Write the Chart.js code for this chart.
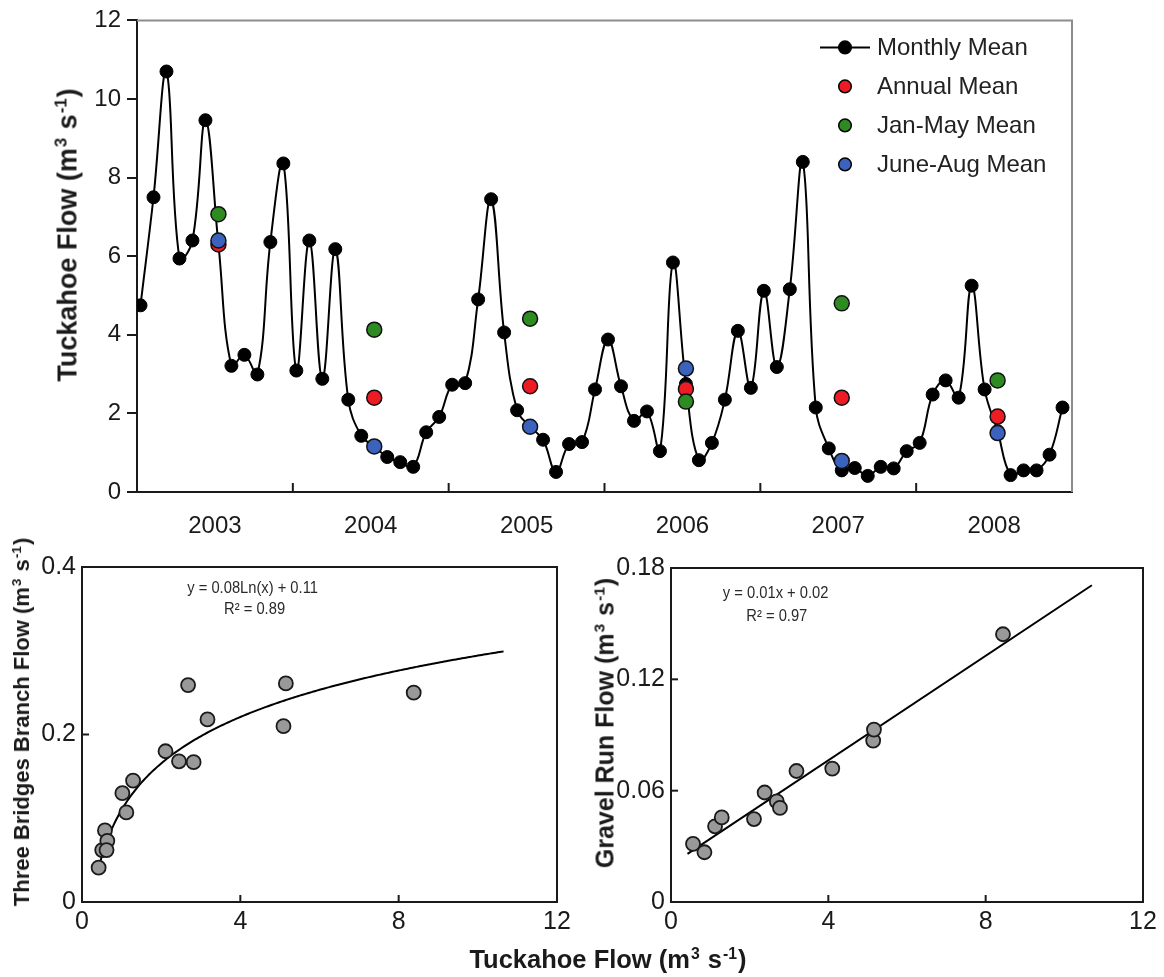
<!DOCTYPE html>
<html>
<head>
<meta charset="utf-8">
<script src="https://cdn.jsdelivr.net/npm/chart.js@4.4.1/dist/chart.umd.min.js"></script>
<style>
  body { margin: 0; background: #fff; }
  #wrap { position: relative; width: 1164px; height: 977px; overflow: hidden;
          font-family: "Liberation Sans", Arial, sans-serif; color: #1a1a1a; }
  canvas { position: absolute; }
  .title { position: absolute; font-weight: bold; font-size: 24px; white-space: nowrap; line-height: 1; }
  .title sup { font-size: 0.62em; position: relative; top: -0.6em; vertical-align: baseline; margin: 0 1px; }
  .rot { transform: translate(-50%, -50%) rotate(-90deg); }
  .hor { transform: translate(-50%, -50%); }
</style>
</head>
<body>
<div id="wrap">
  <canvas id="flowTop" width="1164" height="560" style="left:0;top:0"></canvas>
  <canvas id="flowThree" width="580" height="437" style="left:0;top:540px"></canvas>
  <canvas id="flowGravel" width="584" height="437" style="left:580px;top:540px"></canvas>
  <div class="title rot" style="left:68px;top:235px;font-size:27px">Tuckahoe Flow (m<sup>3</sup> s<sup>-1</sup>)</div>
  <div class="title rot" style="left:22px;top:722px;font-size:22px">Three Bridges Branch Flow (m<sup>3</sup> s<sup>-1</sup>)</div>
  <div class="title rot" style="left:605px;top:723px;font-size:25px">Gravel Run Flow (m<sup>3</sup> s<sup>-1</sup>)</div>
  <div class="title hor" style="left:608px;top:960px;font-size:25.5px">Tuckahoe Flow (m<sup>3</sup> s<sup>-1</sup>)</div>
</div>
<script>
// ---- data ----
const years = ['2003', '2004', '2005', '2006', '2007', '2008'];

// monthly mean Tuckahoe flow, Jan 2003 .. Dec 2008
const monthlyMean = [
  4.75, 7.5, 10.7, 5.94, 6.4, 9.46, 6.3, 3.21, 3.49, 2.99, 6.36, 8.36,
  3.09, 6.4, 2.88, 6.18, 2.35, 1.43, 1.16, 0.89, 0.76, 0.64, 1.52, 1.91,
  2.73, 2.77, 4.9, 7.45, 4.06, 2.08, 1.66, 1.33, 0.51, 1.22, 1.27, 2.61,
  3.88, 2.69, 1.81, 2.05, 1.04, 5.84, 2.75, 0.81, 1.25, 2.35, 4.1, 2.65,
  5.12, 3.18, 5.16, 8.4, 2.15, 1.11, 0.55, 0.61, 0.41, 0.64, 0.6, 1.04,
  1.25, 2.48, 2.84, 2.4, 5.25, 2.61, 1.55, 0.43, 0.55, 0.55, 0.95, 2.15
];
const annualMean  = [6.3, 2.4, 2.69, 2.62, 2.4, 1.92];
const janMayMean  = [7.07, 4.13, 4.41, 2.3, 4.8, 2.84];
const juneAugMean = [6.4, 1.16, 1.66, 3.14, 0.79, 1.5];

// Three Bridges Branch vs Tuckahoe
const threeX = [0.42, 0.51, 0.58, 0.64, 0.62, 1.02, 1.12, 1.29, 2.11, 2.45, 2.68, 2.82, 3.17, 5.09, 5.15, 8.38];
const threeY = [0.041, 0.062, 0.0855, 0.073, 0.062, 0.130, 0.107, 0.145, 0.180, 0.168, 0.259, 0.167, 0.218, 0.210, 0.261, 0.250];
const threeFit = { a: 0.08, b: 0.11, from: 0.45, to: 10.65 };   // y = a ln(x) + b

// Gravel Run vs Tuckahoe
const gravelX = [0.56, 0.85, 1.12, 1.29, 2.11, 2.38, 2.69, 2.77, 3.19, 4.10, 5.14, 5.16, 8.44];
const gravelY = [0.0313, 0.0268, 0.0408, 0.0456, 0.0447, 0.059, 0.0542, 0.0507, 0.0706, 0.0719, 0.087, 0.0929, 0.1443];
const gravelFitX = [0.42, 10.7];
const gravelFitY = [0.0259, 0.1707];

// tick labels
const topYTicks = [0, 2, 4, 6, 8, 10, 12];
const flowXTicks = [0, 4, 8, 12];
const threeYTicks = [0, 0.2, 0.4];
const gravelYTicks = [0, 0.06, 0.12, 0.18];

// ---- helpers ----
const FONT = '"Liberation Sans", Arial, sans-serif';
const INK = '#1a1a1a';
const MONTH_SHIFT = 0.27;   // points sit just after each month start

const monthPts = monthlyMean.map((v, i) => ({ x: i + MONTH_SHIFT, y: v }));
const meanPts = arr => arr.map((v, i) => ({ x: i * 12 + 6 + MONTH_SHIFT, y: v }));

// box outline + inward tick marks
const frame = {
  id: 'frame',
  afterDraw(chart, args, o) {
    const { ctx, chartArea: a, scales } = chart;
    ctx.save();
    ctx.lineWidth = 2;
    ctx.strokeStyle = o.color;
    ctx.beginPath();
    ctx.moveTo(a.left, a.top);
    ctx.lineTo(a.right, a.top);
    ctx.lineTo(a.right, a.bottom);
    ctx.stroke();
    ctx.strokeStyle = INK;
    (o.xTicks || []).forEach(v => {
      const x = scales.x.getPixelForValue(v);
      ctx.beginPath(); ctx.moveTo(x, a.bottom); ctx.lineTo(x, a.bottom - o.len); ctx.stroke();
    });
    (o.yTicks || []).forEach(v => {
      const y = scales.y.getPixelForValue(v);
      ctx.beginPath(); ctx.moveTo(a.left, y); ctx.lineTo(a.left + o.len, y); ctx.stroke();
    });
    ctx.restore();
  }
};

// legend drawn inside the plot
const insideLegend = {
  id: 'insideLegend',
  afterDraw(chart) {
    const { ctx, chartArea: a } = chart;
    const mx = a.right - 227, tx = a.right - 195;
    ctx.save();
    ctx.font = '24px ' + FONT;
    ctx.textBaseline = 'middle';
    chart.data.datasets.forEach((ds, i) => {
      const y = a.top + 27 + i * 39;
      if (ds.showLine !== false) {
        ctx.strokeStyle = '#000'; ctx.lineWidth = 2;
        ctx.beginPath(); ctx.moveTo(mx - 25, y); ctx.lineTo(mx + 25, y); ctx.stroke();
      }
      ctx.beginPath();
      ctx.arc(mx, y, 6.3, 0, Math.PI * 2);
      ctx.fillStyle = ds.pointBackgroundColor; ctx.fill();
      ctx.lineWidth = 1.5; ctx.strokeStyle = '#000'; ctx.stroke();
      ctx.fillStyle = '#222';
      ctx.fillText(ds.label, tx, y + 1);
    });
    ctx.restore();
  }
};

// regression equation text (narrow face made by squeezing Liberation Sans)
const note = {
  id: 'note',
  afterDraw(chart, args, o) {
    const { ctx, scales } = chart;
    const sx = 0.92;
    ctx.save();
    ctx.font = '16px ' + FONT;
    ctx.fillStyle = '#2a2a2a';
    ctx.textAlign = 'center';
    ctx.textBaseline = 'middle';
    ctx.scale(sx, 1);
    o.lines.forEach(l => ctx.fillText(l.text, scales.x.getPixelForValue(l.x) / sx, scales.y.getPixelForValue(l.y)));
    ctx.restore();
  }
};

const fixTicks = list => scale => { scale.ticks = list.map(v => ({ value: v })); };
const noGrid = { display: false, drawTicks: false };
const blackBorder = { color: INK, width: 2 };

// ---- top: monthly time series ----
const dot = (label, color, data, order) => ({
  label, data, order, showLine: false,
  pointRadius: 7.5, pointHoverRadius: 7.5,
  pointBackgroundColor: color, pointBorderColor: '#111', pointBorderWidth: 1.5
});

new Chart(document.getElementById('flowTop'), {
  type: 'line',
  data: {
    datasets: [
      {
        label: 'Monthly Mean', data: monthPts, order: 3,
        borderColor: '#000', borderWidth: 2, tension: 0.4,
        pointRadius: 6.5, pointHoverRadius: 6.5,
        pointBackgroundColor: '#000', pointBorderColor: '#000', pointBorderWidth: 1
      },
      dot('Annual Mean', '#ed1c24', meanPts(annualMean), 2),
      dot('Jan-May Mean', '#2e8b22', meanPts(janMayMean), 1),
      dot('June-Aug Mean', '#3b63bd', meanPts(juneAugMean), 0)
    ]
  },
  options: {
    responsive: false, animation: false,
    layout: { padding: { left: 0, top: 15, right: 92, bottom: 0 } },
    plugins: {
      legend: { display: false }, tooltip: { enabled: false },
      frame: { color: '#8c8c8c', len: 9, xTicks: [12, 24, 36, 48, 60] }
    },
    scales: {
      x: {
        type: 'linear', min: 0, max: 72,
        grid: noGrid, border: blackBorder,
        afterBuildTicks: fixTicks(years.map((y, i) => i * 12 + 6)),
        afterFit: s => { s.height = 68; },
        ticks: { padding: 20, color: INK, font: { family: FONT, size: 24 }, maxRotation: 0,
                 callback: (v, i) => years[i] }
      },
      y: {
        min: 0, max: 12,
        grid: { drawOnChartArea: false, drawTicks: true, tickLength: 10, color: INK, lineWidth: 2 },
        border: blackBorder,
        afterBuildTicks: fixTicks(topYTicks),
        afterFit: s => { s.width = 137; },
        ticks: { padding: 6, color: INK, font: { family: FONT, size: 24 } }
      }
    }
  },
  plugins: [frame, insideLegend]
});

// ---- bottom: scatter charts ----
function scatterChart(id, xs, ys, fitPts, yTicks, yMax, yInner, fmt, yWidth, pad, notes) {
  return new Chart(document.getElementById(id), {
    type: 'scatter',
    data: {
      datasets: [
        {
          data: xs.map((x, i) => ({ x, y: ys[i] })), order: 0,
          pointRadius: 7, pointHoverRadius: 7,
          pointBackgroundColor: '#999', pointBorderColor: '#1a1a1a', pointBorderWidth: 1.8
        },
        {
          data: fitPts, order: 1, showLine: true, pointRadius: 0,
          borderColor: '#000', borderWidth: 2, tension: 0
        }
      ]
    },
    options: {
      responsive: false, animation: false,
      layout: { padding: pad },
      plugins: {
        legend: { display: false }, tooltip: { enabled: false },
        frame: { color: INK, len: 7, xTicks: [4, 8], yTicks: yInner },
        note: { lines: notes }
      },
      scales: {
        x: {
          type: 'linear', min: 0, max: 12,
          grid: noGrid, border: blackBorder,
          afterBuildTicks: fixTicks(flowXTicks),
          afterFit: s => { s.height = 437 - 362; },
          ticks: { padding: 5, color: INK, font: { family: FONT, size: 25 }, maxRotation: 0 }
        },
        y: {
          min: 0, max: yMax,
          grid: noGrid, border: blackBorder,
          afterBuildTicks: fixTicks(yTicks),
          afterFit: s => { s.width = yWidth; },
          ticks: { padding: 6, color: INK, font: { family: FONT, size: 25 }, callback: fmt }
        }
      }
    },
    plugins: [frame, note]
  });
}

const logCurve = [];
for (let x = threeFit.from; x <= threeFit.to + 1e-9; x += 0.05) {
  logCurve.push({ x, y: threeFit.a * Math.log(x) + threeFit.b });
}

scatterChart('flowThree', threeX, threeY, logCurve, threeYTicks, 0.4, [0.2],
  v => v === 0 ? '0' : v.toFixed(1), 82, { left: 0, top: 27, right: 23, bottom: 0 },
  [{ text: 'y = 0.08Ln(x) + 0.11', x: 4.31, y: 0.374 },
   { text: 'R\u00B2 = 0.89', x: 4.36, y: 0.349 }]);

scatterChart('flowGravel', gravelX, gravelY,
  gravelFitX.map((x, i) => ({ x, y: gravelFitY[i] })), gravelYTicks, 0.18, [0.06, 0.12],
  v => v === 0 ? '0' : v.toFixed(2), 91, { left: 0, top: 28, right: 21, bottom: 0 },
  [{ text: 'y = 0.01x + 0.02', x: 2.66, y: 0.1664 },
   { text: 'R\u00B2 = 0.97', x: 2.69, y: 0.154 }]);
</script>
</body>
</html>
